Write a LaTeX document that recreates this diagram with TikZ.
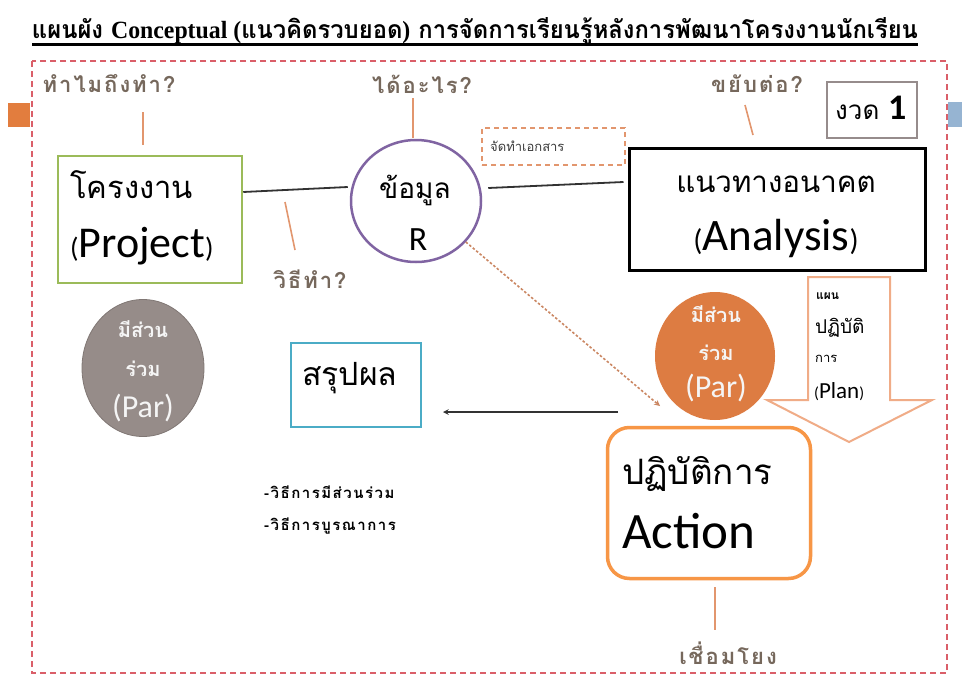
\documentclass[tikz,border=0pt]{standalone}
\usepackage{fontspec}
\setmainfont[Script=Thai]{Loma}
\newfontfamily\lat{Carlito}
\newfontfamily\serifb{Liberation Serif}
\usetikzlibrary{shapes.geometric}
\definecolor{framec}{RGB}{218,95,105}
\definecolor{labelc}{RGB}{118,104,92}
\definecolor{tickc}{RGB}{226,150,110}
\definecolor{greenc}{RGB}{155,187,89}
\definecolor{purplec}{RGB}{128,100,162}
\definecolor{cyanc}{RGB}{75,172,198}
\definecolor{actc}{RGB}{247,150,70}
\definecolor{orellc}{RGB}{221,124,66}
\definecolor{grayellc}{RGB}{150,140,137}
\definecolor{arrowc}{RGB}{240,172,135}
\definecolor{connc}{RGB}{50,50,50}
\definecolor{sqor}{RGB}{226,125,62}
\definecolor{sqbl}{RGB}{150,180,210}
\definecolor{boxgray}{RGB}{150,140,140}
\definecolor{smalltxt}{RGB}{60,60,60}
\begin{document}
\begin{tikzpicture}[x=1pt,y=-1pt,
  lbl/.style={text=labelc, inner sep=0pt, font=\fontsize{22}{24}\selectfont\bfseries\addfontfeature{LetterSpace=9}},
  tick/.style={draw=tickc, line width=1.6pt},
  conn/.style={draw=connc, line width=1.8pt},
  txt/.style={inner sep=0pt, anchor=base west},
  ellwhite/.style={inner sep=0pt, text=white!92!gray}
]
\useasboundingbox (0,0) rectangle (962,675);
\fill[white] (0,0) rectangle (962,675);
% side squares
\fill[sqor] (8,103) rectangle (30,127);
\fill[sqbl] (948,102) rectangle (962,127);
% frame
\draw[framec, line width=1.5pt, dash pattern=on 6pt off 4pt, fill=white] (32,61) rectangle (947,673);

% title
\node[inner sep=0pt, anchor=base] (title) at (475,38) {\resizebox{886pt}{21pt}{\bfseries แผนผัง {\serifb\bfseries Conceptual (}แนวคิดรวบยอด{\serifb\bfseries )} การจัดการเรียนรู้หลังการพัฒนาโครงงานนักเรียน}};
\coordinate (ulA) at (32,44);
\coordinate (ulB) at (918,44);
\draw[line width=3pt] (ulA) -- (ulB);

% question labels
\node[lbl] (why) at (109,84) {ทำไมถึงทำ?};
\node[lbl] (what) at (422,84) {ได้อะไร?};
\node[lbl] (nxt) at (757,84) {ขยับต่อ?};
\node[lbl] (how) at (310,279) {วิธีทำ?};
\node[lbl] (link) at (728,653) {เชื่อมโยง};

% ticks
\coordinate (t1a) at (143,112); \coordinate (t1b) at (143,145);
\coordinate (t2a) at (413,98);  \coordinate (t2b) at (413,138);
\coordinate (t3a) at (745,105); \coordinate (t3b) at (753,135);
\coordinate (t4a) at (285,202); \coordinate (t4b) at (295,250);
\coordinate (t5a) at (715,587); \coordinate (t5b) at (715,630);
\draw[tick] (t1a) -- (t1b);
\draw[tick] (t2a) -- (t2b);
\draw[tick] (t3a) -- (t3b);
\draw[tick] (t4a) -- (t4b);
\draw[tick] (t5a) -- (t5b);

% งวด 1
\node[draw=boxgray, line width=1.5pt, minimum width=90pt, minimum height=56pt, inner sep=0pt] (round) at (872,110) {};
\node[txt] (roundt) at (835,119) {\fontsize{26}{28}\selectfont งวด {\lat\fontsize{36}{36}\selectfont\bfseries 1}};

% project box
\node[draw=greenc, line width=2.5pt, minimum width=184pt, minimum height=127pt, inner sep=0pt] (proj) at (150,219.5) {};
\node[txt] (projt1) at (70,198) {\fontsize{31}{34}\selectfont โครงงาน};
\node[txt] (projt2) at (70,257) {\lat\fontsize{28}{30}\selectfont(\fontsize{44}{46}\selectfont Project\fontsize{28}{30}\selectfont)};

% R circle
\node[ellipse, draw=purplec, line width=2.5pt, minimum width=130pt, minimum height=122pt, inner sep=0pt] (R) at (416,201) {};
\node[inner sep=0pt, anchor=base] (Rt1) at (415,198) {\fontsize{28}{30}\selectfont ข้อมูล};
\node[inner sep=0pt, anchor=base] (Rt2) at (418,250) {\lat\fontsize{34}{36}\selectfont R};

% document dashed box
\node[draw=tickc, line width=1.5pt, dash pattern=on 5pt off 4pt, minimum width=143pt, minimum height=37pt, inner sep=0pt] (doc) at (553.5,146.5) {};
\node[txt] (doct) at (490,151) {\fontsize{13}{14}\selectfont\color{smalltxt}จัดทำเอกสาร};

% analysis box
\node[draw=black, line width=3pt, minimum width=296pt, minimum height=122pt, inner sep=0pt] (ana) at (777,209) {};
\node[inner sep=0pt, anchor=base] (anat1) at (776,192) {\fontsize{29.5}{32}\selectfont แนวทางอนาคต};
\node[inner sep=0pt, anchor=base] (anat2) at (776,250) {\lat\fontsize{30}{32}\selectfont(\fontsize{45}{46}\selectfont Analysis\fontsize{30}{32}\selectfont)};

% connectors
\draw[conn] ([yshift=27.5pt]proj.east) -- ([xshift=-2pt,yshift=14pt]R.west);
\draw[conn] ([xshift=6pt,yshift=13pt]R.east) -- ([xshift=-4pt,yshift=27pt]ana.west);

% gray ellipse
\node[ellipse, fill=grayellc, draw=grayellc!85!black, line width=0.8pt, minimum width=122pt, minimum height=137pt, inner sep=0pt] (par1) at (143,368) {};
\node[ellwhite, anchor=base] (par1a) at (143,337) {\fontsize{20}{22}\selectfont\bfseries มีส่วน};
\node[ellwhite, anchor=base] (par1b) at (143,376) {\fontsize{20}{22}\selectfont\bfseries ร่วม};
\node[ellwhite, anchor=base] (par1c) at (143,417) {\lat\fontsize{32}{34}\selectfont (Par)};

% summary box
\node[draw=cyanc, line width=2.5pt, minimum width=130pt, minimum height=84pt, inner sep=0pt] (sum) at (356,385) {};
\node[txt] (sumt) at (302,385) {\fontsize{32}{34}\selectfont สรุปผล};

% orange ellipse
\node[ellipse, fill=orellc, minimum width=120pt, minimum height=128pt, inner sep=0pt] (par2) at (715,356) {};
\node[ellwhite, anchor=base] (par2a) at (716,322) {\fontsize{20}{22}\selectfont\bfseries มีส่วน};
\node[ellwhite, anchor=base] (par2b) at (716,360) {\fontsize{20}{22}\selectfont\bfseries ร่วม};
\node[ellwhite, anchor=base] (par2c) at (716,397) {\lat\fontsize{32}{34}\selectfont (Par)};

% plan arrow
\draw[arrowc, line width=2pt, line join=miter, fill=white] (808,277) -- (890,277) -- (890,400) -- (932,400) -- (849,442) -- (767,400) -- (808,400) -- cycle;
\node[txt] (plan1) at (816,299) {\fontsize{12}{13}\selectfont\bfseries แผน};
\node[txt] (plan2) at (815,333) {\fontsize{19}{20}\selectfont ปฏิบัติ};
\node[txt] (plan3) at (815,362) {\fontsize{13}{14}\selectfont การ};
\node[txt] (plan4) at (814,398) {\lat\fontsize{16}{18}\selectfont(\fontsize{23}{24}\selectfont Plan\fontsize{16}{18}\selectfont)};

% action box
\node[draw=actc, line width=3.5pt, rounded corners=22pt, minimum width=203pt, minimum height=151pt, inner sep=0pt] (act) at (709,503) {};
\node[txt] (actt1) at (622,484) {\fontsize{35}{38}\selectfont ปฏิบัติการ};
\node[txt] (actt2) at (622,548) {\lat\fontsize{51}{52}\selectfont Action};

% arrows
\coordinate (arrS) at (618,412);
\coordinate (arrE) at (443,412);
\draw[conn, line width=1.5pt, -stealth] (arrS) -- (arrE);
\coordinate (dotE) at (660,406);
\draw[tickc!90!black, line width=1.6pt, dash pattern=on 2.5pt off 2pt, -stealth] ([xshift=3pt,yshift=3pt]R.south east) -- (dotE);

% bullet list
\node[txt] (li1) at (264,498) {\fontsize{15}{16}\selectfont\bfseries\addfontfeature{LetterSpace=10}-วิธีการมีส่วนร่วม};
\node[txt] (li2) at (264,530) {\fontsize{15}{16}\selectfont\bfseries\addfontfeature{LetterSpace=10}-วิธีการบูรณาการ};
\end{tikzpicture}
\end{document}
